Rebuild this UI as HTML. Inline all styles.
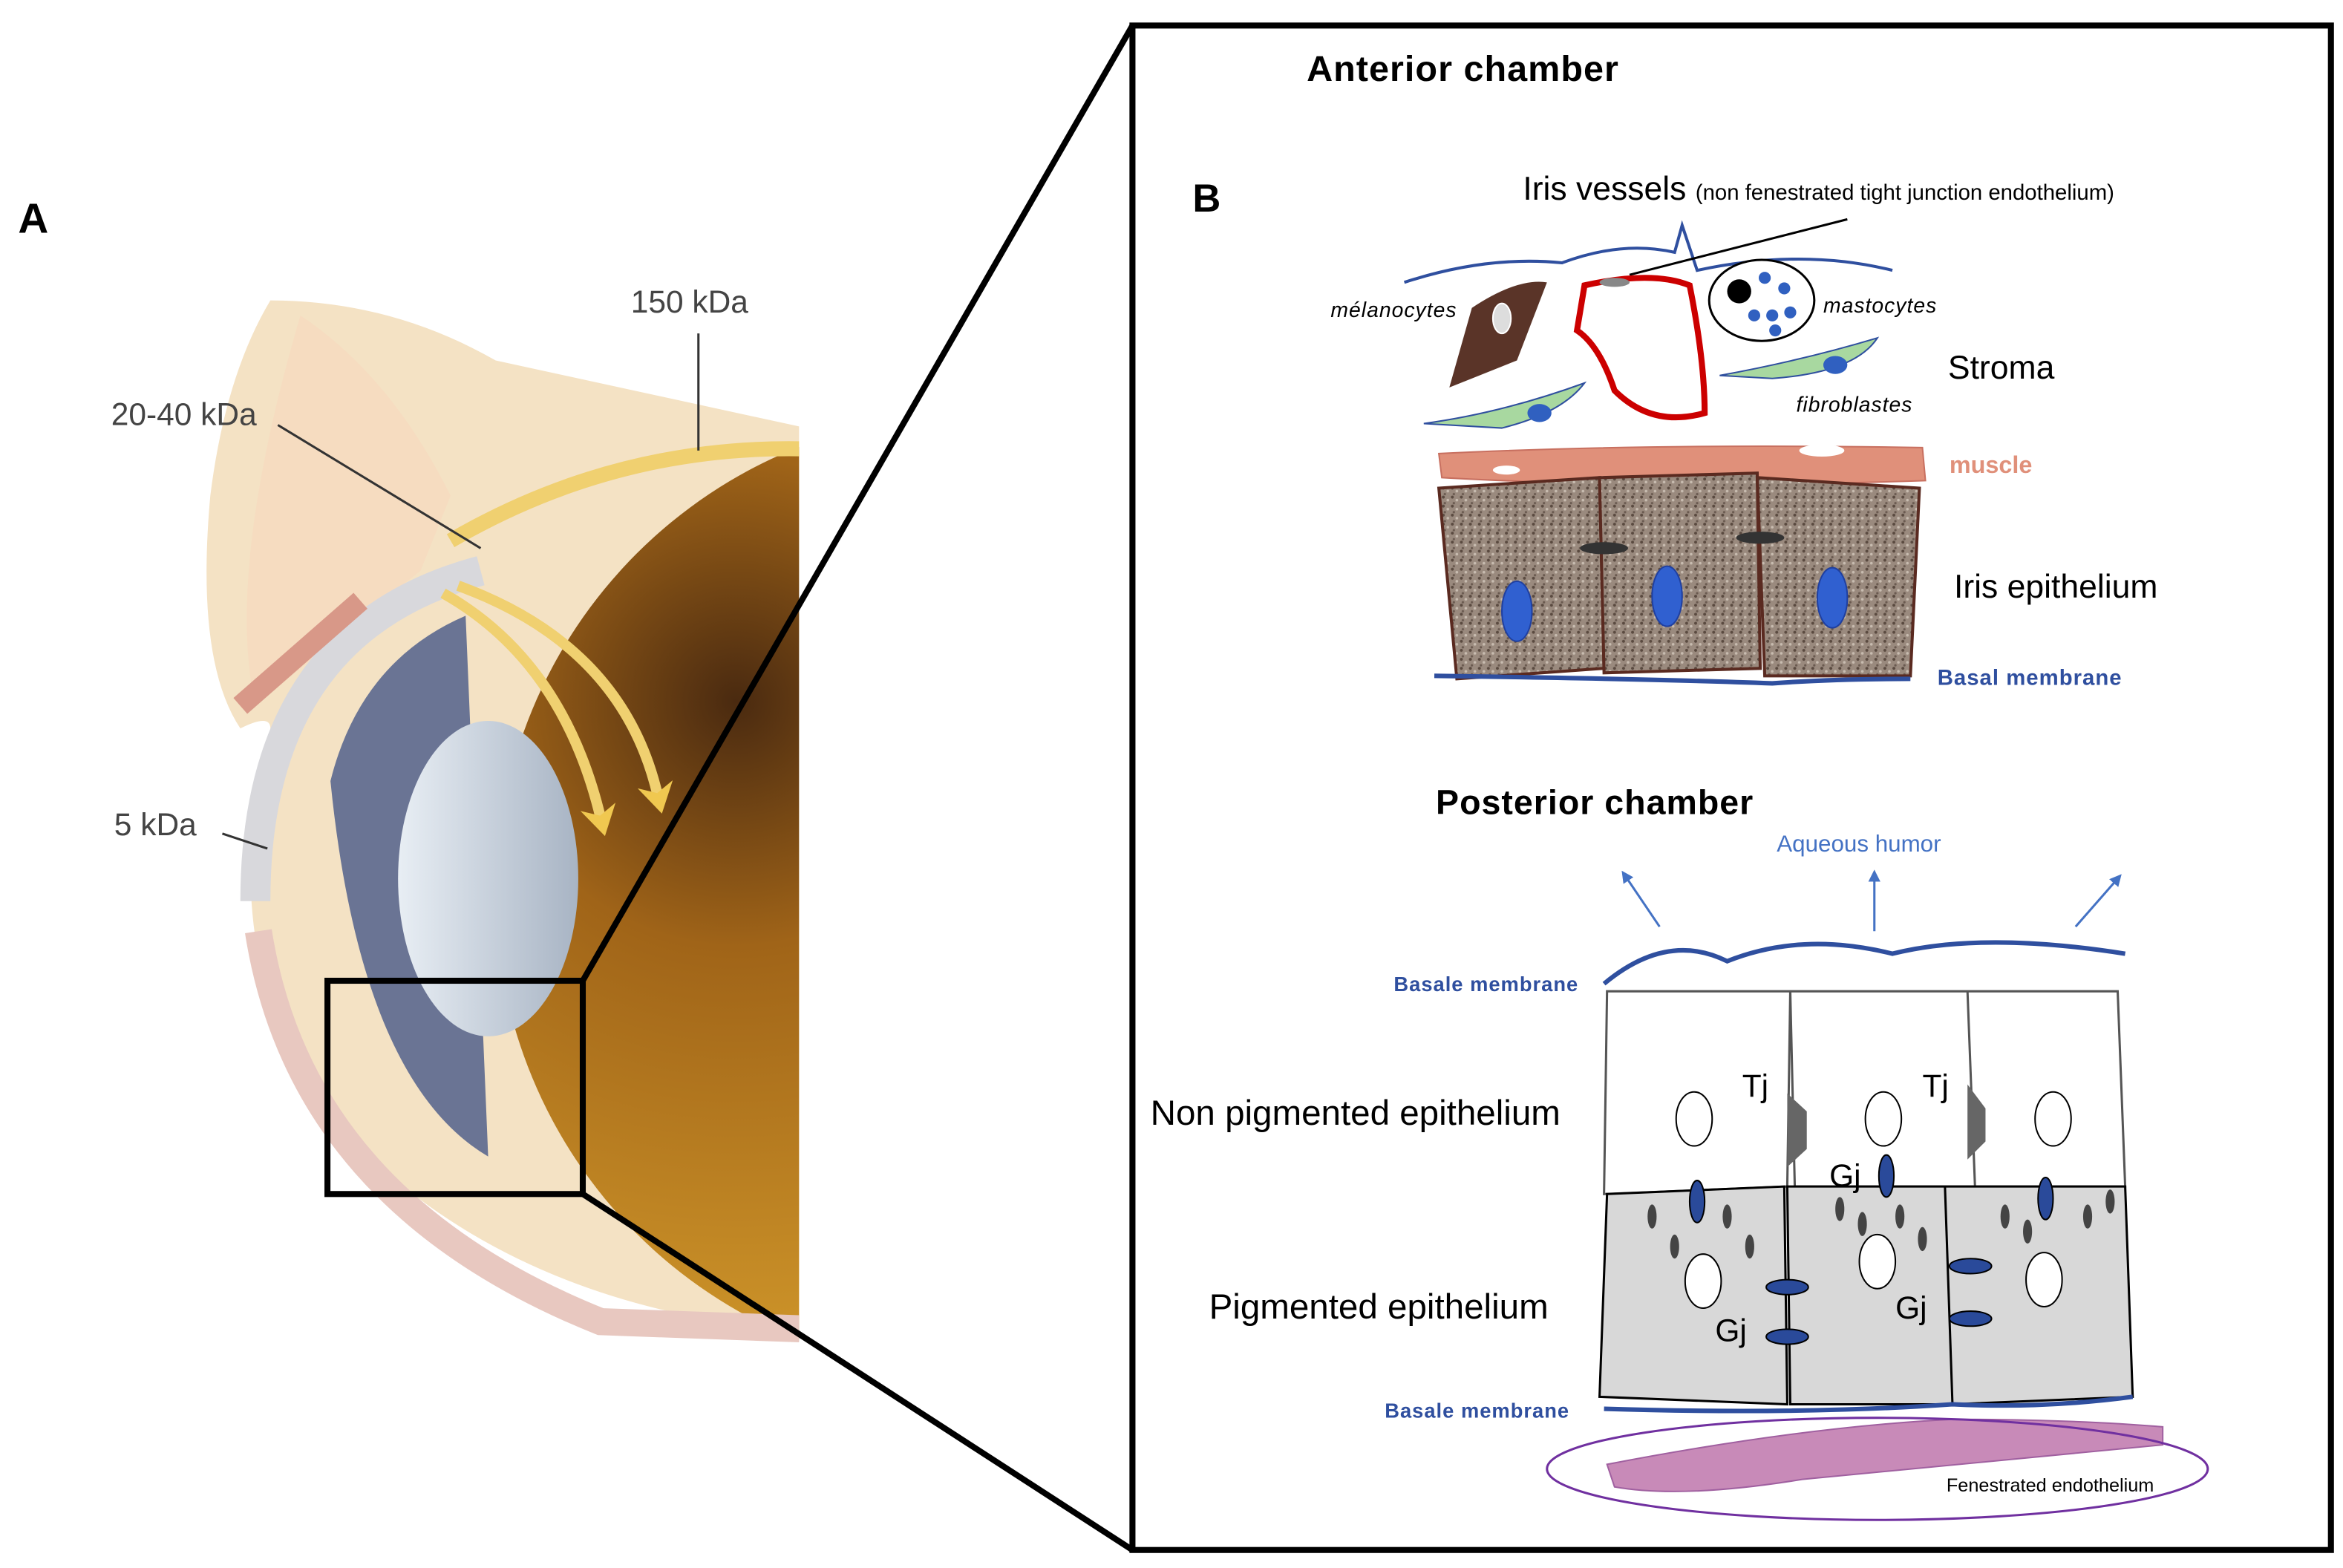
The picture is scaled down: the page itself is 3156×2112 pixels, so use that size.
<!DOCTYPE html>
<html><head><meta charset="utf-8"><style>html,body{margin:0;padding:0;background:#fff}svg{display:block}</style></head>
<body>
<svg width="3156" height="2112" viewBox="0 0 1560 1044" xmlns="http://www.w3.org/2000/svg" font-family="Liberation Sans, sans-serif">
<defs>
<radialGradient id="gold" cx="0.25" cy="0.3" r="0.85"><stop offset="0" stop-color="#4a2a10"/><stop offset="0.3" stop-color="#a06418"/><stop offset="1" stop-color="#e0a830"/></radialGradient>
<linearGradient id="lens" x1="0" x2="1"><stop offset="0" stop-color="#e8eef4"/><stop offset="1" stop-color="#a8b4c4"/></linearGradient>
<clipPath id="cl"><rect x="0" y="0" width="532" height="1044"/></clipPath>
<pattern id="speck" width="6" height="6" patternUnits="userSpaceOnUse"><rect width="6" height="6" fill="#9a8a7e"/><circle cx="1" cy="1" r="1" fill="#5a4a40"/><circle cx="4" cy="3" r="0.9" fill="#c8bcb0"/><circle cx="2" cy="5" r="0.8" fill="#6a5a50"/></pattern>
<marker id="ah" markerWidth="8" markerHeight="8" refX="4" refY="4" orient="auto" markerUnits="userSpaceOnUse"><path d="M0 0 L8 4 L0 8 Z" fill="#4472c4"/></marker>
<marker id="ya" markerWidth="24" markerHeight="24" refX="8" refY="12" orient="auto" markerUnits="userSpaceOnUse"><path d="M0 0 L20 12 L0 24 L6 12 Z" fill="#f0c850"/></marker>
</defs>
<rect width="1560" height="1044" fill="#fff"/>
<text x="12" y="155" font-size="28" font-weight="bold">A</text>
<g clip-path="url(#cl)">
<path d="M180 200 Q260 200 330 240 L560 290 L560 885 L480 880 Q300 850 200 720 Q150 620 175 500 Q190 470 160 485 Q130 440 140 330 Q150 250 180 200 Z" fill="#f4e2c4"/>
<path d="M200 210 Q260 250 300 330 L280 380 Q230 420 170 470 Q150 380 200 210Z" fill="#f6dcc0"/>
<circle cx="650" cy="595" r="320" fill="url(#gold)"/>
<path d="M300 360 Q420 290 560 300" stroke="#f0d070" stroke-width="10" fill="none"/>
<path d="M170 600 Q170 420 320 380" stroke="#d8d8dc" stroke-width="20" fill="none"/>
<path d="M220 520 Q240 440 310 410 L325 770 Q240 720 220 520Z" fill="#6a7494"/>
<ellipse cx="325" cy="585" rx="60" ry="105" fill="url(#lens)"/>
<path d="M172 620 Q200 800 400 880 L540 885" stroke="#e8c8c0" stroke-width="18" fill="none"/>
<path d="M295 395 Q375 440 400 545" stroke="#f0d070" stroke-width="7" fill="none" marker-end="url(#ya)"/>
<path d="M305 390 Q415 430 438 530" stroke="#f0d070" stroke-width="7" fill="none" marker-end="url(#ya)"/>
<path d="M160 470 L240 400" stroke="#d89888" stroke-width="14"/>
</g>
<line x1="185" y1="283" x2="320" y2="365" stroke="#333" stroke-width="1.5"/>
<line x1="465" y1="222" x2="465" y2="300" stroke="#333" stroke-width="1.5"/>
<line x1="148" y1="555" x2="178" y2="565" stroke="#333" stroke-width="1.5"/>
<text x="420" y="208" font-size="21" fill="#444">150 kDa</text>
<text x="74" y="283" font-size="21" fill="#444">20-40 kDa</text>
<text x="76" y="556" font-size="21" fill="#444">5 kDa</text>
<rect x="218" y="653" width="170" height="142" fill="none" stroke="#000" stroke-width="4"/>
<line x1="388" y1="653" x2="754" y2="17" stroke="#000" stroke-width="4"/>
<line x1="388" y1="795" x2="754" y2="1032" stroke="#000" stroke-width="4"/>
<rect x="754" y="17" width="798" height="1015" fill="#fff" stroke="#000" stroke-width="4"/>
<text x="870" y="54" font-size="24" font-weight="bold" letter-spacing="0.5">Anterior chamber</text>
<text x="794" y="141" font-size="26" font-weight="bold">B</text>
<text x="1014" y="133" font-size="22">Iris vessels <tspan font-size="14.5">(non fenestrated tight junction endothelium)</tspan></text>
<path d="M935 188 Q990 170 1040 175 Q1080 160 1115 168 L1120 150 L1130 180 Q1200 165 1260 180" stroke="#2f4f9f" stroke-width="2" fill="none"/>
<line x1="1230" y1="146" x2="1085" y2="183" stroke="#000" stroke-width="1.5"/>
<path d="M965 258 L980 205 Q1010 185 1030 188 L1010 240 Z" fill="#5a3428"/><ellipse cx="1000" cy="212" rx="6" ry="10" fill="#ddd" stroke="#fff"/>
<path d="M1055 190 Q1100 180 1125 190 Q1135 240 1135 275 Q1100 285 1075 260 Q1065 230 1050 220 Z" fill="none" stroke="#c00" stroke-width="4"/>
<ellipse cx="1075" cy="188" rx="10" ry="3" fill="#888"/>
<ellipse cx="1173" cy="200" rx="35" ry="27" fill="#fff" stroke="#000" stroke-width="1.5"/><circle cx="1158" cy="194" r="8" fill="#000"/>
<g fill="#3060c0"><circle cx="1175" cy="185" r="4"/><circle cx="1188" cy="192" r="4"/><circle cx="1168" cy="210" r="4"/><circle cx="1180" cy="210" r="4"/><circle cx="1192" cy="208" r="4"/><circle cx="1182" cy="220" r="4"/></g>
<text x="886" y="211" font-size="14" font-style="italic" letter-spacing="0.5">mélanocytes</text>
<text x="1214" y="208" font-size="14" font-style="italic" letter-spacing="0.5">mastocytes</text>
<text x="1196" y="274" font-size="14" font-style="italic" letter-spacing="0.5">fibroblastes</text>
<path d="M948 282 Q1000 275 1055 255 Q1040 275 1000 285 Z" fill="#a8d8a0" stroke="#2f4f9f"/><ellipse cx="1025" cy="275" rx="8" ry="6" fill="#3060c0"/>
<path d="M1145 250 Q1200 240 1250 225 Q1235 248 1180 252 Z" fill="#a8d8a0" stroke="#2f4f9f"/><ellipse cx="1222" cy="243" rx="8" ry="6" fill="#3060c0"/>
<text x="1297" y="252" font-size="22">Stroma</text>
<path d="M958 302 Q1100 295 1280 298 L1282 320 Q1100 326 960 318 Z" fill="#e0907a" stroke="#c87060"/>
<ellipse cx="1003" cy="313" rx="9" ry="3" fill="#fff"/><ellipse cx="1213" cy="300" rx="15" ry="4" fill="#fff"/>
<text x="1298" y="315" font-size="16" font-weight="bold" fill="#e0907a">muscle</text>
<path d="M958 325 L1065 318 L1068 445 L970 452 Z" fill="url(#speck)" stroke="#5a2a20" stroke-width="2"/>
<path d="M1065 318 L1170 315 L1172 445 L1068 448 Z" fill="url(#speck)" stroke="#5a2a20" stroke-width="2"/>
<path d="M1170 318 L1278 325 L1272 450 L1175 450 Z" fill="url(#speck)" stroke="#5a2a20" stroke-width="2"/>
<g fill="#3060d0" stroke="#2040a0"><ellipse cx="1010" cy="407" rx="10" ry="20"/><ellipse cx="1110" cy="397" rx="10" ry="20"/><ellipse cx="1220" cy="398" rx="10" ry="20"/></g>
<ellipse cx="1068" cy="365" rx="16" ry="4" fill="#333"/><ellipse cx="1172" cy="358" rx="16" ry="4" fill="#333"/>
<path d="M955 450 Q1100 452 1180 455 Q1220 452 1272 452" stroke="#2f4f9f" stroke-width="3" fill="none"/>
<text x="1301" y="398" font-size="22">Iris epithelium</text>
<text x="1290" y="456" font-size="14.5" font-weight="bold" fill="#2f4f9f" letter-spacing="0.5">Basal membrane</text>
<text x="956" y="542" font-size="23" font-weight="bold" letter-spacing="0.5">Posterior chamber</text>
<text x="1183" y="567" font-size="15.5" fill="#4472c4">Aqueous humor</text>
<g stroke="#4472c4" stroke-width="1.5"><line x1="1105" y1="617" x2="1082" y2="583" marker-end="url(#ah)"/><line x1="1248" y1="620" x2="1248" y2="583" marker-end="url(#ah)"/><line x1="1382" y1="617" x2="1410" y2="585" marker-end="url(#ah)"/></g>
<path d="M1070 660 L1068 795 L1190 790 L1192 660 Z M1192 660 L1195 790 L1315 790 L1310 660 Z M1310 660 L1315 790 L1415 790 L1410 660 Z" fill="#fff" stroke="#555" stroke-width="1.5"/>
<path d="M1068 655 Q1110 620 1150 640 Q1200 620 1260 635 Q1320 620 1415 635" stroke="#2f4f9f" stroke-width="3" fill="none"/>
<path d="M1070 795 L1065 930 L1190 935 L1188 790 Z M1190 790 L1192 935 L1300 935 L1295 790 Z M1295 790 L1300 935 L1420 930 L1415 790 Z" fill="#d8d8d8" stroke="#000" stroke-width="1.5"/>
<g fill="#fff" stroke="#000"><ellipse cx="1128" cy="745" rx="12" ry="18"/><ellipse cx="1254" cy="745" rx="12" ry="18"/><ellipse cx="1367" cy="745" rx="12" ry="18"/><ellipse cx="1134" cy="853" rx="12" ry="18"/><ellipse cx="1250" cy="840" rx="12" ry="18"/><ellipse cx="1361" cy="852" rx="12" ry="18"/></g>
<g fill="#444"><ellipse cx="1100" cy="810" rx="3" ry="8"/><ellipse cx="1115" cy="830" rx="3" ry="8"/><ellipse cx="1150" cy="810" rx="3" ry="8"/><ellipse cx="1165" cy="830" rx="3" ry="8"/><ellipse cx="1225" cy="805" rx="3" ry="8"/><ellipse cx="1240" cy="815" rx="3" ry="8"/><ellipse cx="1265" cy="810" rx="3" ry="8"/><ellipse cx="1280" cy="825" rx="3" ry="8"/><ellipse cx="1335" cy="810" rx="3" ry="8"/><ellipse cx="1350" cy="820" rx="3" ry="8"/><ellipse cx="1390" cy="810" rx="3" ry="8"/><ellipse cx="1405" cy="800" rx="3" ry="8"/></g>
<g fill="#2a4a9a" stroke="#000"><ellipse cx="1130" cy="800" rx="5" ry="14"/><ellipse cx="1256" cy="783" rx="5" ry="14"/><ellipse cx="1362" cy="798" rx="5" ry="14"/><ellipse cx="1190" cy="857" rx="14" ry="5"/><ellipse cx="1190" cy="890" rx="14" ry="5"/><ellipse cx="1312" cy="843" rx="14" ry="5"/><ellipse cx="1312" cy="878" rx="14" ry="5"/></g>
<path d="M1190 728 L1203 740 L1203 765 L1190 777 Z" fill="#666"/><path d="M1310 722 L1322 738 L1322 760 L1310 772 Z" fill="#666"/>
<g font-size="21"><text x="1160" y="730">Tj</text><text x="1280" y="730">Tj</text><text x="1218" y="790">Gj</text><text x="1142" y="893">Gj</text><text x="1262" y="878">Gj</text></g>
<path d="M1068 938 Q1200 942 1300 935 Q1360 938 1420 930" stroke="#2f4f9f" stroke-width="3" fill="none"/>
<path d="M1070 975 Q1200 950 1300 945 Q1380 945 1440 950 L1440 962 Q1300 975 1200 985 Q1120 998 1075 990 Z" fill="#c88ab8" stroke="#a060a0"/>
<ellipse cx="1250" cy="978" rx="220" ry="34" fill="none" stroke="#7030a0" stroke-width="1.5"/>
<text x="1296" y="993" font-size="12.5">Fenestrated endothelium</text>
<text x="928" y="660" font-size="13.5" font-weight="bold" fill="#2f4f9f" letter-spacing="0.5">Basale membrane</text>
<text x="922" y="944" font-size="13.5" font-weight="bold" fill="#2f4f9f" letter-spacing="0.5">Basale membrane</text>
<text x="766" y="749" font-size="23.5">Non pigmented epithelium</text>
<text x="805" y="878" font-size="23.5">Pigmented epithelium</text>
</svg>
</body></html>
